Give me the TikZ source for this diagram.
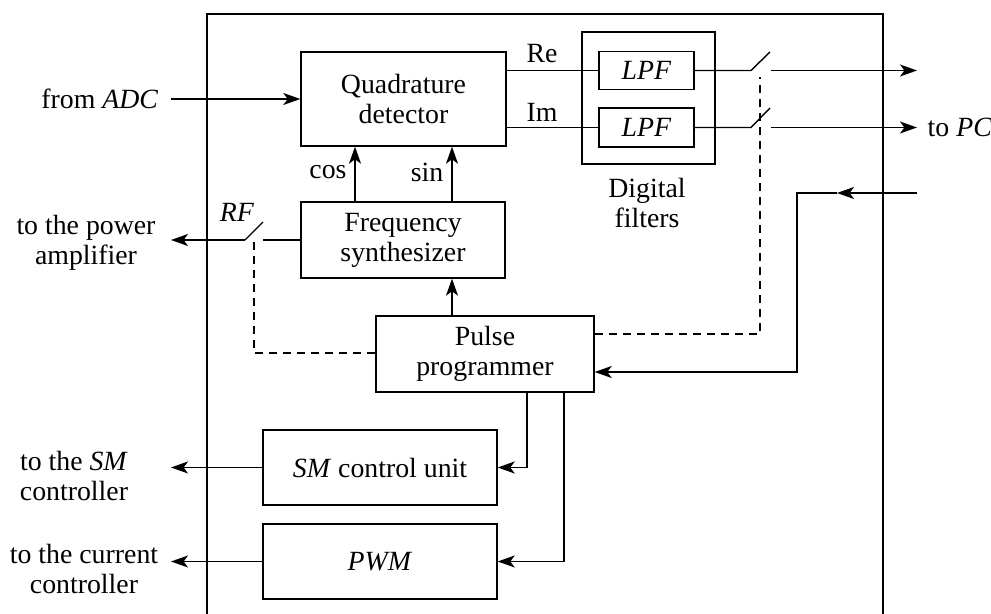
\documentclass[tikz,border=0pt]{standalone}
\usepackage{fontspec}
\setmainfont{Liberation Serif}
\usetikzlibrary{arrows.meta}
\begin{document}
\begin{tikzpicture}[x=0.5pt,y=-0.5pt,line width=0.7pt,
  every node/.style={font=\fontsize{13.9}{15}\selectfont},
  blk/.style={draw,inner sep=0pt,align=center},
  arr/.style={-{Stealth[length=8.5pt,width=6pt,inset=2.2pt]}},
  dsh/.style={dash pattern=on 4pt off 3pt}]
\useasboundingbox (0,0) rectangle (991,614);
% outer frame
\draw (207,614) -- (207,14) -- (883,14) -- (883,614);
% blocks
\node[blk,minimum width=102.5pt,minimum height=47pt] (quad) at (403.5,99) {Quadrature\\detector};
\node[blk,minimum width=102pt,minimum height=38pt] (freq) at (403,240) {Frequency\\synthesizer};
\node[blk,minimum width=109pt,minimum height=38pt] (pulse) at (485,354) {Pulse\\programmer};
\node[blk,minimum width=117pt,minimum height=37.5pt] (sm) at (380,467.5) {\textit{SM} control unit};
\node[blk,minimum width=117pt,minimum height=37.5pt] (pwm) at (380,561.5) {\textit{PWM}};
\node[blk,minimum width=66.5pt,minimum height=66pt] (df) at (648.5,98) {};
\node[blk,minimum width=47.5pt,minimum height=19pt] (lpfa) at (646.5,70.5) {\textit{LPF}};
\node[blk,minimum width=47.5pt,minimum height=19.5pt] (lpfb) at (646.5,127.5) {\textit{LPF}};
% labels
\node[anchor=east,inner sep=0pt] (ladc) at (159,99) {from \textit{ADC}};
\node[align=center,inner sep=0pt] (lpa) at (86,242.5) {to the power\\amplifier};
\node[align=center,inner sep=0pt] (lsm) at (74,476) {to the \textit{SM}\\controller};
\node[align=center,inner sep=0pt] (lcur) at (84,568.5) {to the current\\controller};
\node[anchor=west,inner sep=0pt] (lpc) at (927,127.5) {to \textit{PC}};
\node[inner sep=0pt] (lcos) at (328,172) {cos};
\node[inner sep=0pt] (lsin) at (427,172) {sin};
\node[inner sep=0pt] (lre) at (542,54) {Re};
\node[inner sep=0pt] (lim) at (542,112) {Im};
\node[inner sep=0pt] (lrf) at (237,212) {\textit{RF}};
\node[align=center,inner sep=0pt] (ldf) at (647,203) {Digital\\filters};
% coordinates
\coordinate (adc) at (171,99);
\coordinate (rfa) at (263,240);
\coordinate (rfb) at (245,240);
\coordinate (rfc) at (263,222);
\coordinate (rfo) at (171,240);
\coordinate (swa1) at (751,70.5);
\coordinate (swa2) at (770,52);
\coordinate (swa3) at (771,70.5);
\coordinate (outa) at (917,70.5);
\coordinate (swb1) at (751,127.5);
\coordinate (swb2) at (770,108);
\coordinate (swb3) at (771,127.5);
\coordinate (outb) at (917,127.5);
\coordinate (inr) at (917,193);
\coordinate (inm) at (837,193);
\coordinate (inc) at (797,193);
\coordinate (smo) at (171,467.5);
\coordinate (pwmo) at (171,561.5);
% connectors
\draw[arr] (adc) -- (quad.west);
\draw[arr] (freq.north -| 355,0) -- (quad.south -| 355,0);
\draw[arr] (freq.north -| 452,0) -- (quad.south -| 452,0);
\draw[arr] (pulse.north -| 452,0) -- (freq.south -| 452,0);
\draw (freq.west) -- (rfa);
\draw (rfb) -- (rfc);
\draw[arr] (rfb) -- (rfo);
\draw[dsh] (254,242) -- (254,353) -- (pulse.west |- 0,353);
\draw (quad.east |- lpfa) -- (lpfa.west);
\draw (quad.east |- lpfb) -- (lpfb.west);
\draw (lpfa.east) -- (swa1) -- (swa2);
\draw (lpfb.east) -- (swb1) -- (swb2);
\draw[arr] (swa3) -- (outa);
\draw[arr] (swb3) -- (outb);
\draw[dsh] (pulse.east |- 0,334) -- (760,334) -- (760,77);
\draw[arr] (inr) -- (inm);
\draw[arr] (inm) -- (inc) -- (797,372) -- (pulse.east |- 0,372);
\draw[arr] (pulse.south -| 527,0) -- (527,467.5) -- (sm.east);
\draw[arr] (pulse.south -| 564,0) -- (564,561.5) -- (pwm.east);
\draw[arr] (sm.west) -- (smo);
\draw[arr] (pwm.west) -- (pwmo);
\end{tikzpicture}
\end{document}
